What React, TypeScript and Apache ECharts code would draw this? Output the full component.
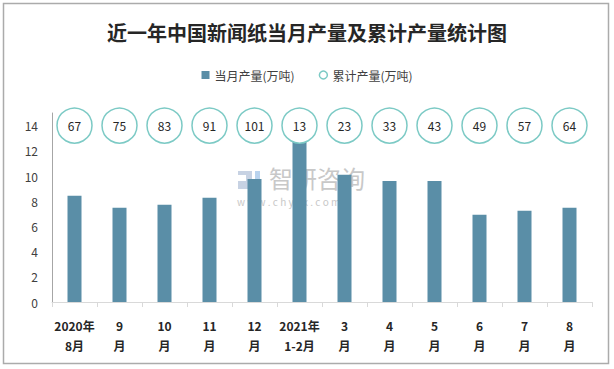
import React, { useEffect, useRef } from "react";
import * as echarts from "echarts";

const categories = ["2020年\n8月", "9\n月", "10\n月", "11\n月", "12\n月", "2021年\n1-2月", "3\n月", "4\n月", "5\n月", "6\n月", "7\n月", "8\n月"];
const monthly = [8.43, 7.49, 7.72, 8.27, 9.77, 12.82, 10.09, 9.61, 9.61, 6.93, 7.25, 7.49];
const cumulative = [67, 75, 83, 91, 101, 13, 23, 33, 43, 49, 57, 64];
const circleLevel = [14, 14, 14, 14, 14, 14, 14, 14, 14, 14, 14, 14];

const FONT = "'Noto Sans CJK SC', 'Noto Sans', sans-serif";

export default function App() {
  const ref = useRef<HTMLDivElement>(null);
  useEffect(() => {
    if (!ref.current) return;
    const chart = echarts.init(ref.current, null, { renderer: "svg" });
    chart.setOption({
      animation: false,
      backgroundColor: "#ffffff",
      textStyle: { fontFamily: FONT },
      title: {
        text: "近一年中国新闻纸当月产量及累计产量统计图",
        left: "center",
        top: 17,
        textStyle: { fontSize: 20, fontWeight: "bold", color: "#262626", fontFamily: FONT },
      },
      legend: {
        top: 64,
        left: "center",
        itemWidth: 8,
        itemHeight: 8,
        itemGap: 24,
        textStyle: { fontSize: 12, color: "#404040", fontFamily: FONT },
        data: [
          { name: "当月产量(万吨)", icon: "rect" },
          {
            name: "累计产量(万吨)",
            icon: "circle",
            itemStyle: { color: "#ffffff", borderColor: "#7ccac5", borderWidth: 1.5 },
          },
        ],
      },
      graphic: [
        {
          type: "rect",
          z: 100,
          shape: { x: 3.5, y: 3.5, width: 605, height: 360 },
          style: { fill: "none", stroke: "#ababab", lineWidth: 1.5 },
        },
        {
          type: "group",
          z: -10,
          children: [
            { type: "rect", shape: { x: 238, y: 171, width: 14, height: 4 }, style: { fill: "#c7d2e3" } },
            { type: "rect", shape: { x: 246, y: 175, width: 6, height: 6 }, style: { fill: "#c7d2e3" } },
            { type: "rect", shape: { x: 238, y: 181, width: 14, height: 8 }, style: { fill: "#c7d2e3" } },
            { type: "rect", shape: { x: 255, y: 171, width: 5, height: 18 }, style: { fill: "#b9d3ee" } },
            {
              type: "text",
              x: 269,
              y: 164,
              style: { text: "智研咨询", fontSize: 24, lineHeight: 26, fill: "#c8c8c8", fontFamily: FONT },
            },
            {
              type: "text",
              x: 237,
              y: 196,
              style: { text: "w w w . c h y x x . c o m", fontSize: 10, lineHeight: 10, fill: "#c8c8c8", fontFamily: FONT },
            },
          ],
        },
      ],
      grid: { left: 52, right: 22, top: 113, bottom: 67, containLabel: false },
      xAxis: {
        type: "category",
        data: categories,
        axisLine: { show: true, lineStyle: { color: "#d9d9d9", width: 1 } },
        axisTick: { show: true, length: 5, lineStyle: { color: "#d9d9d9" } },
        axisLabel: {
          interval: 0,
          margin: 13,
          fontSize: 12,
          lineHeight: 20,
          fontWeight: "bold",
          color: "#262626",
          fontFamily: FONT,
        },
      },
      yAxis: {
        type: "value",
        min: 0,
        max: 15,
        interval: 2,
        splitLine: { show: false },
        axisLine: { show: true, lineStyle: { color: "#a6a6a6" } },
        axisTick: { show: false },
        axisLabel: { showMaxLabel: false, margin: 14, fontSize: 12, color: "#404040", fontFamily: FONT },
      },
      series: [
        {
          name: "当月产量(万吨)",
          type: "bar",
          data: monthly,
          barWidth: 14,
          itemStyle: { color: "#5a8ea7" },
          z: 2,
        },
        {
          name: "累计产量(万吨)",
          type: "scatter",
          data: circleLevel,
          symbol: "circle",
          symbolSize: 35,
          itemStyle: { color: "#ffffff", borderColor: "#7ccac5", borderWidth: 1.5, opacity: 1 },
          label: {
            show: true,
            position: "inside",
            fontSize: 12,
            color: "#262626",
            fontFamily: FONT,
            formatter: (p: any) => String(cumulative[p.dataIndex]),
          },
          z: 3,
        },
      ],
    });
    return () => chart.dispose();
  }, []);
  return (
    <div style={{ position: "fixed", left: 0, top: 0, width: 614, height: 369 }}>
      <div ref={ref} style={{ width: 614, height: 369 }} />
    </div>
  );
}
